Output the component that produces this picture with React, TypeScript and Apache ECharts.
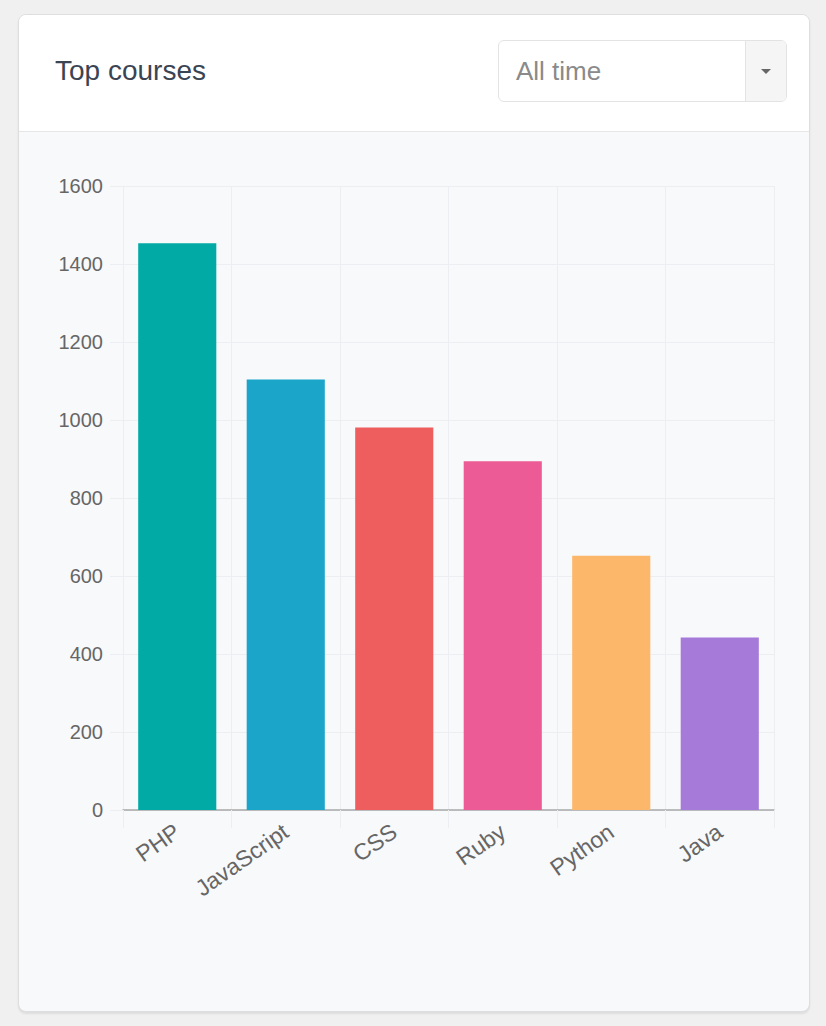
import React, { useEffect, useRef } from "react";
import * as echarts from "echarts";

const courses = ["PHP", "JavaScript", "CSS", "Ruby", "Python", "Java"];
const students = [1453, 1104, 981, 894, 652, 442];
const barColors = ["#02aaa6", "#1ba6c9", "#ef5e5e", "#ec5b95", "#fdb76a", "#a57ad9"];

const FONT = "'Liberation Sans', Arial, Helvetica, sans-serif";

const TopCourses: React.FC = () => {
  const chartRef = useRef<HTMLDivElement>(null);

  useEffect(() => {
    if (!chartRef.current) return;
    const chart = echarts.init(chartRef.current, null, { renderer: "svg" });

    const option = {
      animation: false,
      textStyle: { fontFamily: FONT },
      grid: { left: 104, top: 54, right: 35, bottom: 201 },
      xAxis: {
        type: "category",
        data: courses,
        axisLine: { show: true, lineStyle: { color: "#a8a8a8", width: 1.5 } },
        axisTick: { show: true, length: 18, lineStyle: { color: "#eceef1" } },
        splitLine: { show: true, lineStyle: { color: "#eceef1" } },
        axisLabel: {
          rotate: 35,
          fontSize: 23,
          color: "#666",
          margin: 19,
          fontFamily: FONT,
        },
      },
      yAxis: {
        type: "value",
        min: 0,
        max: 1600,
        interval: 200,
        axisLine: { show: true, lineStyle: { color: "#eceef1" } },
        axisTick: { show: true, length: 13, lineStyle: { color: "#eceef1" } },
        splitLine: { show: true, lineStyle: { color: "#eceef1" } },
        axisLabel: {
          fontSize: 20,
          color: "#666",
          margin: 20,
          fontFamily: FONT,
          formatter: (v: number) => String(v),
        },
      },
      series: [
        {
          type: "bar",
          barWidth: "72%",
          data: students.map((v, i) => ({
            value: v,
            itemStyle: { color: barColors[i] },
          })),
        },
      ],
    };

    chart.setOption(option);
    return () => chart.dispose();
  }, []);

  return (
    <div
      style={{
        position: "absolute",
        left: 18,
        top: 14,
        width: 790,
        height: 996,
        background: "#f8f9fb",
        border: "1px solid #dedede",
        borderRadius: 8,
        boxShadow: "0 2px 2px rgba(0,0,0,0.08)",
        overflow: "hidden",
        fontFamily: FONT,
      }}
    >
      <div
        style={{
          position: "absolute",
          left: 0,
          top: 0,
          width: 790,
          height: 116,
          background: "#fff",
          borderBottom: "1px solid #e6e6e6",
        }}
      >
        <div
          style={{
            position: "absolute",
            left: 36,
            top: 40,
            fontSize: 28,
            lineHeight: "32px",
            color: "#3b4453",
          }}
        >
          Top courses
        </div>
        <div
          style={{
            position: "absolute",
            left: 479,
            top: 25,
            width: 287,
            height: 60,
            border: "1px solid #e3e3e3",
            borderRadius: 6,
            background: "#fff",
            overflow: "hidden",
          }}
        >
          <div
            style={{
              position: "absolute",
              left: 17,
              top: 15,
              fontSize: 26,
              lineHeight: "30px",
              color: "#8a8a8a",
            }}
          >
            All time
          </div>
          <div
            style={{
              position: "absolute",
              left: 246,
              top: 0,
              width: 41,
              height: 60,
              background: "#f5f5f5",
              borderLeft: "1px solid #e3e3e3",
            }}
          >
            <div
              style={{
                position: "absolute",
                left: 15,
                top: 28,
                width: 0,
                height: 0,
                borderLeft: "5px solid transparent",
                borderRight: "5px solid transparent",
                borderTop: "5px solid #666",
              }}
            />
          </div>
        </div>
      </div>
      <div
        ref={chartRef}
        style={{ position: "absolute", left: 0, top: 117, width: 790, height: 879 }}
      />
    </div>
  );
};

export default function App() {
  useEffect(() => {
    document.body.style.margin = "0";
    document.body.style.background = "#f0f0f0";
  }, []);
  return (
    <div style={{ width: 826, height: 1026, background: "#f0f0f0", position: "relative" }}>
      <TopCourses />
    </div>
  );
}
